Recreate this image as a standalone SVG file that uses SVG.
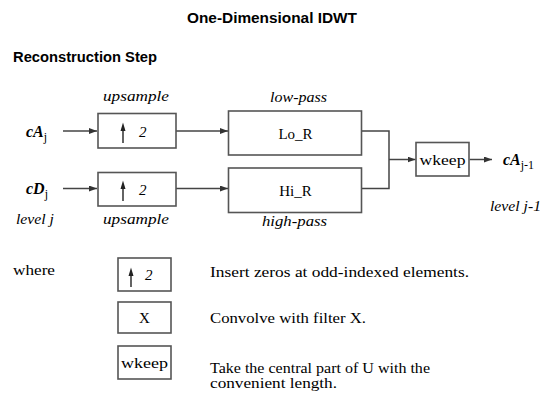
<svg xmlns="http://www.w3.org/2000/svg" width="547" height="394" viewBox="0 0 547 394">
<style>
.bg{fill:#fff}
.box{fill:#fff;stroke:#555;stroke-width:1.6}
.wire{fill:none;stroke:#444;stroke-width:1.5}
.up{fill:none;stroke:#222;stroke-width:1.4}
.uph{fill:#222}
.h{font-family:"Liberation Sans",Arial,sans-serif;font-weight:bold;fill:#000}
.s{font-family:"Liberation Serif","Times New Roman",serif;font-size:15px;fill:#000}
.i{font-style:italic}
.v{font-weight:bold;font-style:italic;font-size:16px}
.sub{font-style:normal;font-weight:normal;font-size:12px}
</style>
<defs>
<marker id="ah" markerWidth="8" markerHeight="6" refX="8" refY="3" orient="auto" markerUnits="userSpaceOnUse">
<path d="M0,0 L8,3 L0,6 z" fill="#333"/>
</marker>
</defs>
<rect class="bg" x="0" y="0" width="547" height="394"/>

<text class="h" x="272" y="23" font-size="15" text-anchor="middle" textLength="170" lengthAdjust="spacingAndGlyphs">One-Dimensional IDWT</text>
<text class="h" x="13" y="62" font-size="14" textLength="144" lengthAdjust="spacingAndGlyphs">Reconstruction Step</text>

<g id="connectors">
<path class="wire" d="M63,131 H97" marker-end="url(#ah)"/>
<path class="wire" d="M176,131 H228" marker-end="url(#ah)"/>
<path class="wire" d="M63,188.5 H97" marker-end="url(#ah)"/>
<path class="wire" d="M176,188.5 H228" marker-end="url(#ah)"/>
<path class="wire" d="M362,131 H389 V188.5 H362"/>
<path class="wire" d="M389,159.5 H415.5" marker-end="url(#ah)"/>
<path class="wire" d="M469.5,159.5 H492" marker-end="url(#ah)"/>
</g>

<g id="cAj">
<text class="s v" x="26" y="137">cA<tspan class="sub" dy="4">j</tspan></text>
</g>
<g id="cDj">
<text class="s v" x="26" y="194">cD<tspan class="sub" dy="4">j</tspan></text>
</g>
<g id="levelj">
<text class="s i" x="16" y="224" textLength="38" lengthAdjust="spacingAndGlyphs">level j</text>
</g>

<g id="up1">
<text class="s i" x="103" y="101" textLength="66" lengthAdjust="spacingAndGlyphs">upsample</text>
<rect class="box" x="98" y="113.5" width="78" height="34.5"/>
<path class="up" d="M123,143 V129"/>
<path class="uph" d="M120.5,131 L123,122.5 L125.5,131 z"/>
<text class="s i" x="139" y="137" font-size="16">2</text>
</g>
<g id="up2">
<rect class="box" x="98" y="172.5" width="78" height="33.5"/>
<path class="up" d="M123,201 V187"/>
<path class="uph" d="M120.5,189 L123,180.5 L125.5,189 z"/>
<text class="s i" x="139" y="195" font-size="16">2</text>
<text class="s i" x="103" y="224" textLength="66" lengthAdjust="spacingAndGlyphs">upsample</text>
</g>

<g id="LoR">
<text class="s i" x="270" y="102" textLength="57" lengthAdjust="spacingAndGlyphs">low-pass</text>
<rect class="box" x="228.5" y="111" width="133" height="44"/>
<text class="s" x="295.5" y="139" font-size="16" text-anchor="middle">Lo_R</text>
</g>
<g id="HiR">
<rect class="box" x="228.5" y="168" width="133" height="44.5"/>
<text class="s" x="295.5" y="196" font-size="16" text-anchor="middle">Hi_R</text>
<text class="s i" x="262" y="226" textLength="65" lengthAdjust="spacingAndGlyphs">high-pass</text>
</g>

<g id="wkeep">
<rect class="box" x="416" y="142.5" width="53" height="33.5"/>
<text class="s" x="419.5" y="165" font-size="16" textLength="46" lengthAdjust="spacingAndGlyphs">wkeep</text>
</g>
<g id="cAj1">
<text class="s v" x="503" y="165">cA<tspan class="sub" dy="4">j-1</tspan></text>
<text class="s i" x="490" y="211" textLength="51" lengthAdjust="spacingAndGlyphs">level j-1</text>
</g>

<g id="legend">
<text class="s" x="13" y="275" textLength="42" lengthAdjust="spacingAndGlyphs">where</text>
<g id="leg-up">
<rect class="box" x="118" y="258" width="53" height="33"/>
<path class="up" d="M131,287 V274"/>
<path class="uph" d="M128.5,276 L131,267.5 L133.5,276 z"/>
<text class="s i" x="145" y="280" font-size="16">2</text>
<text class="s" x="210" y="277" textLength="259" lengthAdjust="spacingAndGlyphs">Insert zeros at odd-indexed elements.</text>
</g>
<g id="leg-x">
<rect class="box" x="118" y="302" width="53" height="31"/>
<text class="s" x="144.5" y="323" font-size="16" text-anchor="middle">X</text>
<text class="s" x="210" y="323" textLength="156" lengthAdjust="spacingAndGlyphs">Convolve with filter X.</text>
</g>
<g id="leg-wkeep">
<rect class="box" x="118" y="346" width="53" height="33"/>
<text class="s" x="121" y="368" font-size="16" textLength="47" lengthAdjust="spacingAndGlyphs">wkeep</text>
<text class="s" x="210" y="373" textLength="220" lengthAdjust="spacingAndGlyphs">Take the central part of U with the</text>
<text class="s" x="210" y="388" textLength="127" lengthAdjust="spacingAndGlyphs">convenient length.</text>
</g>
</g>
</svg>
